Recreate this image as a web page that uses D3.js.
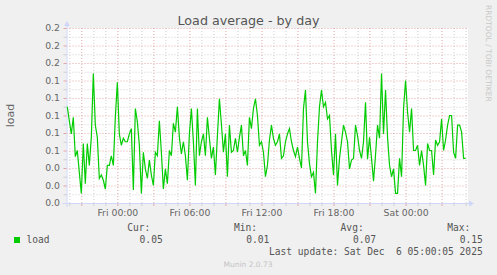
<!DOCTYPE html>
<html>
<head>
<meta charset="utf-8">
<script src="https://cdn.jsdelivr.net/npm/d3@7"></script>
<style>
    body { margin: 0; background: #f0f0f0; }
    svg { display: block; }
</style>
</head>
<body>
<div id="chart"></div>
<script>
// 10 minute samples of the load average, starting Thu 19:50
const startTime = new Date(2025, 11, 4, 19, 50);
const stepMinutes = 10;
const loadValues = [
    0.110, 0.094, 0.079, 0.098, 0.053, 0.060, 0.035, 0.011, 0.068, 0.022,
    0.068, 0.043, 0.075, 0.148, 0.089, 0.075, 0.028, 0.032, 0.026, 0.016,
    0.043, 0.043, 0.054, 0.043, 0.098, 0.138, 0.079, 0.066, 0.074, 0.070,
    0.070, 0.079, 0.085, 0.015, 0.108, 0.093, 0.066, 0.011, 0.058, 0.039,
    0.028, 0.049, 0.032, 0.020, 0.058, 0.054, 0.094, 0.058, 0.016, 0.039,
    0.022, 0.060, 0.054, 0.091, 0.081, 0.110, 0.075, 0.056, 0.070, 0.054,
    0.026, 0.079, 0.108, 0.070, 0.020, 0.108, 0.054, 0.070, 0.079, 0.054,
    0.098, 0.074, 0.051, 0.064, 0.032, 0.077, 0.119, 0.090, 0.058, 0.079,
    0.030, 0.089, 0.058, 0.060, 0.074, 0.058, 0.075, 0.089, 0.054, 0.060,
    0.043, 0.098, 0.085, 0.108, 0.119, 0.100, 0.066, 0.070, 0.058, 0.030,
    0.043, 0.072, 0.089, 0.074, 0.066, 0.070, 0.079, 0.051, 0.054, 0.070,
    0.079, 0.085, 0.070, 0.060, 0.053, 0.064, 0.051, 0.040, 0.108, 0.129,
    0.070, 0.045, 0.030, 0.035, 0.011, 0.070, 0.110, 0.129, 0.110, 0.115,
    0.096, 0.100, 0.060, 0.032, 0.079, 0.020, 0.051, 0.070, 0.089, 0.081,
    0.070, 0.039, 0.049, 0.051, 0.089, 0.077, 0.060, 0.051, 0.070, 0.115,
    0.050, 0.075, 0.051, 0.025, 0.055, 0.089, 0.074, 0.148, 0.079, 0.129,
    0.075, 0.043, 0.030, 0.039, 0.011, 0.011, 0.051, 0.030, 0.108, 0.140,
    0.104, 0.081, 0.108, 0.060, 0.060, 0.066, 0.043, 0.060, 0.043, 0.020,
    0.068, 0.060, 0.060, 0.032, 0.072, 0.066, 0.070, 0.096, 0.060, 0.072,
    0.089, 0.100, 0.100, 0.058, 0.051, 0.089, 0.089, 0.081, 0.051, 0.051
];

const yTicks = [0, 0.02, 0.04, 0.06, 0.08, 0.10, 0.12, 0.14, 0.16, 0.18, 0.20];
const yMinorTicks = [0.01, 0.03, 0.05, 0.07, 0.09, 0.11, 0.13, 0.15, 0.17, 0.19];
const xLabelTimes = [
    new Date(2025, 11, 5, 0, 0),
    new Date(2025, 11, 5, 6, 0),
    new Date(2025, 11, 5, 12, 0),
    new Date(2025, 11, 5, 18, 0),
    new Date(2025, 11, 6, 0, 0)
];
const timeDomain = [new Date(2025, 11, 4, 19, 46), new Date(2025, 11, 6, 5, 12)];

const statLabels = ["Cur:", "Min:", "Avg:", "Max:"];
const statValues = [0.05, 0.01, 0.07, 0.15];

const data = loadValues.map((v, i) => ({
    time: new Date(startTime.getTime() + i * stepMinutes * 60000),
    value: v
}));

const width = 497, height = 275;
const margin = { left: 66.5, right: 468, top: 28, bottom: 203 };
const plotW = margin.right - margin.left;

const svg = d3.select("#chart").append("svg")
    .attr("width", width)
    .attr("height", height);

svg.append("rect")
    .attr("width", width)
    .attr("height", height)
    .attr("fill", "#f0f0f0");

// canvas
svg.append("rect")
    .attr("x", margin.left)
    .attr("y", margin.top)
    .attr("width", plotW)
    .attr("height", margin.bottom - margin.top)
    .attr("fill", "#ffffff");

const x = d3.scaleTime()
    .domain(timeDomain)
    .range([margin.left, margin.right]);

const y = d3.scaleLinear()
    .domain([0, 0.2])
    .range([margin.bottom, margin.top]);

const minorColor = "#cfcfcf";
const majorColor = "#e4a4a4";

// Grid helper
function gridY(values, color) {
    let g = svg.append("g")
        .attr("transform", "translate(" + margin.left + ",0)")
        .call(d3.axisLeft(y).tickValues(values).tickSize(-plotW).tickFormat(""));
    g.select(".domain").remove();
    g.selectAll("line").attr("stroke", color).attr("stroke-dasharray", "1,2");
    // small solid ticks outside
    let t = svg.append("g")
        .attr("transform", "translate(" + margin.left + ",0)")
        .call(d3.axisLeft(y).tickValues(values).tickSize(3).tickFormat(""));
    t.select(".domain").remove();
    t.selectAll("line").attr("stroke", color);
}

function gridX(values, color) {
    let g = svg.append("g")
        .attr("transform", "translate(0," + margin.bottom + ")")
        .call(d3.axisBottom(x).tickValues(values).tickSize(-(margin.bottom - margin.top)).tickFormat(""));
    g.select(".domain").remove();
    g.selectAll("line").attr("stroke", color).attr("stroke-dasharray", "1,2");
    let t = svg.append("g")
        .attr("transform", "translate(0," + margin.bottom + ")")
        .call(d3.axisBottom(x).tickValues(values).tickSize(3).tickFormat(""));
    t.select(".domain").remove();
    t.selectAll("line").attr("stroke", color);
}

const hours = d3.timeHour.range(d3.timeHour.ceil(timeDomain[0]), timeDomain[1]);
const majorHours = hours.filter(d => d.getHours() % 3 === 0);
const minorHours = hours.filter(d => d.getHours() % 3 !== 0);

gridY(yMinorTicks, minorColor);
gridX(minorHours, minorColor);
gridY(yTicks, majorColor);
gridX(majorHours, majorColor);

// Tick labels
const yAxis = svg.append("g")
    .attr("transform", "translate(" + margin.left + ",0)")
    .call(d3.axisLeft(y).tickValues(yTicks).tickSize(0).tickPadding(6.5).tickFormat(d3.format(".1f")));
yAxis.select(".domain").remove();
yAxis.selectAll("text")
    .attr("fill", "#666")
    .attr("font-family", "DejaVu Sans")
    .attr("font-size", 9.3);

const xAxis = svg.append("g")
    .attr("transform", "translate(0," + margin.bottom + ")")
    .call(d3.axisBottom(x).tickValues(xLabelTimes).tickSize(0).tickPadding(6)
        .tickFormat(d3.timeFormat("%a %H:%M")));
xAxis.select(".domain").remove();
xAxis.selectAll("text")
    .attr("fill", "#666")
    .attr("font-family", "DejaVu Sans")
    .attr("font-size", 9.3);

// Axis lines + arrows
const axisColor = "#cfd6f8";
svg.append("line")
    .attr("x1", margin.left - 4).attr("x2", margin.right + 2)
    .attr("y1", margin.bottom + 0.5).attr("y2", margin.bottom + 0.5)
    .attr("stroke", axisColor);
svg.append("path")
    .attr("d", "M" + (margin.right + 1) + "," + (margin.bottom - 2.5) + "L" + (margin.right + 6) + "," + (margin.bottom + 0.5) + "L" + (margin.right + 1) + "," + (margin.bottom + 3.5) + "Z")
    .attr("fill", axisColor);
svg.append("line")
    .attr("x1", margin.left + 0.5).attr("x2", margin.left + 0.5)
    .attr("y1", margin.bottom + 4).attr("y2", margin.top - 2)
    .attr("stroke", axisColor);
svg.append("path")
    .attr("d", "M" + (margin.left - 2.5) + "," + (margin.top - 2) + "L" + (margin.left + 0.5) + "," + (margin.top - 7) + "L" + (margin.left + 3.5) + "," + (margin.top - 2) + "Z")
    .attr("fill", axisColor);

// Series
const line = d3.line()
    .x(d => x(d.time))
    .y(d => y(d.value));

svg.append("path")
    .datum(data)
    .attr("fill", "none")
    .attr("stroke", "#00cc00")
    .attr("stroke-width", 1.2)
    .attr("d", line);

// Title
svg.append("text")
    .attr("x", 248.5)
    .attr("y", 25)
    .attr("text-anchor", "middle")
    .attr("font-family", "DejaVu Sans")
    .attr("font-size", 12.7)
    .attr("fill", "#555")
    .text("Load average - by day");

// Y axis title
svg.append("text")
    .attr("transform", "translate(14," + ((margin.top + margin.bottom) / 2) + ") rotate(-90)")
    .attr("text-anchor", "middle")
    .attr("font-family", "DejaVu Sans")
    .attr("font-size", 11)
    .attr("fill", "#666")
    .text("load");

// Watermark
svg.append("text")
    .attr("transform", "translate(486,5) rotate(90)")
    .attr("font-family", "DejaVu Sans")
    .attr("font-size", 7.5)
    .attr("fill", "#c8c8c8")
    .text("RRDTOOL / TOBI OETIKER");

// Legend
const mono = "DejaVu Sans Mono";
svg.append("rect")
    .attr("x", 14).attr("y", 237)
    .attr("width", 6).attr("height", 6)
    .attr("fill", "#00cc00");
svg.append("text")
    .attr("x", 26.5).attr("y", 243)
    .attr("font-family", mono).attr("font-size", 9.6)
    .attr("fill", "#555")
    .text("load");

statLabels.forEach((s, i) => {
    let right = 162.7 + 106.7 * i;
    svg.append("text")
        .attr("x", right - 12.4).attr("y", 230.5)
        .attr("text-anchor", "end")
        .attr("font-family", mono).attr("font-size", 9.6)
        .attr("fill", "#555")
        .text(s);
    svg.append("text")
        .attr("x", right).attr("y", 243)
        .attr("text-anchor", "end")
        .attr("font-family", mono).attr("font-size", 9.6)
        .attr("fill", "#555")
        .text(d3.format(".2f")(statValues[i]));
});

svg.append("text")
    .attr("x", 482.7).attr("y", 255)
    .attr("text-anchor", "end")
    .attr("font-family", mono).attr("font-size", 9.6)
    .attr("fill", "#555")
    .attr("xml:space", "preserve")
    .style("white-space", "pre")
    .text("Last update: Sat Dec  6 05:00:05 2025");

svg.append("text")
    .attr("x", 248).attr("y", 266.5)
    .attr("text-anchor", "middle")
    .attr("font-family", "DejaVu Sans")
    .attr("font-size", 7.5)
    .attr("fill", "#c4c4c4")
    .text("Munin 2.0.73");
</script>
</body>
</html>
